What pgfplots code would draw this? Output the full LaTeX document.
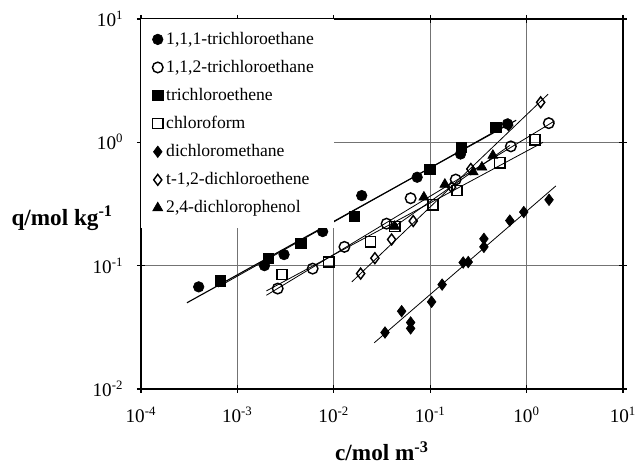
\documentclass[border=0pt]{standalone}
\usepackage{fontspec}
\setmainfont{Liberation Serif}
\usepackage{pgfplots}
\pgfplotsset{compat=1.18}
\begin{document}
\begin{tikzpicture}
\begin{axis}[
  scale only axis,
  width=301.25pt, height=231.25pt,
  xmode=log, ymode=log,
  xmin=1e-4, xmax=10, ymin=1e-2, ymax=10,
  xtick={1e-4,1e-3,1e-2,1e-1,1,10},
  xticklabels={10\textsuperscript{-4},10\textsuperscript{-3},10\textsuperscript{-2},10\textsuperscript{-1},10\textsuperscript{0},10\textsuperscript{1}},
  ytick={1e-2,1e-1,1,10},
  yticklabels={10\textsuperscript{-2},10\textsuperscript{-1},10\textsuperscript{0},10\textsuperscript{1}},
  minor tick num=0,
  subtickwidth=0pt,
  tick align=center,
  major tick length=5pt,
  tick style={black, line width=0.8pt},
  axis line style={black, line width=1pt},
  grid=major,
  major grid style={black!55, line width=0.5pt},
  ticklabel style={font=\fontsize{12}{14}\selectfont},
  xticklabel style={yshift=-5pt},
  yticklabel style={xshift=-5pt},
  xlabel={\bfseries c/mol m\textsuperscript{-3}},
  xlabel style={font=\fontsize{14.5}{16}\selectfont, at={(rel axis cs:0.5,0)}, anchor=center, yshift=-39pt},
  ylabel={\bfseries q/mol kg\textsuperscript{-1}},
  ylabel style={font=\fontsize{14.5}{16}\selectfont, rotate=-90, at={(rel axis cs:0,0.462)}, anchor=east, xshift=-14pt},
  legend style={at={(0,1)}, anchor=north west, draw=none, fill=white,
    inner xsep=7pt, inner ysep=6pt, row sep=4.4pt,
    font=\fontsize{11}{13}\selectfont, cells={anchor=west}},
  legend image code/.code={\draw[mark repeat=1] plot coordinates {(0pt,0pt)};},
  every axis plot/.append style={black},
]
% 1,1,1-trichloroethane
\addplot[only marks, mark=*, mark size=3.3pt] coordinates {
 (3.97e-4,0.0673) (1.91e-3,0.100) (3.05e-3,0.123) (7.67e-3,0.189)
 (0.0195,0.370) (0.0733,0.521) (0.2065,0.804) (0.634,1.41)};
\addlegendentry{\makebox[96pt][l]{1,1,1-trichloroethane}}
% 1,1,2-trichloroethane
\addplot[only marks, mark=o, mark size=3.3pt, mark options={fill=white, line width=0.9pt}] coordinates {
 (2.62e-3,0.0652) (6.04e-3,0.0946) (0.0129,0.142) (0.0353,0.219)
 (0.0627,0.352) (0.184,0.499) (0.687,0.927) (1.70,1.43)};
\addlegendentry{1,1,2-trichloroethane}
% trichloroethene
\addplot[only marks, mark=square*, mark size=3.2pt] coordinates {
 (6.62e-4,0.0752) (2.09e-3,0.114) (4.54e-3,0.151) (0.0162,0.251)
 (0.0993,0.600) (0.211,0.912) (0.480,1.32)};
\addlegendentry{trichloroethene}
% chloroform
\addplot[only marks, mark=square, mark size=3.2pt, mark options={fill=white, line width=0.9pt}] coordinates {
 (2.90e-3,0.0846) (8.9e-3,0.107) (0.0241,0.156) (0.0429,0.208)
 (0.107,0.311) (0.190,0.407) (0.527,0.681) (1.22,1.05)};
\addlegendentry{chloroform}
% dichloromethane
\addplot[only marks, mark=diamond*, mark size=3.6pt] coordinates {
 (0.0340,0.0287) (0.0506,0.0427) (0.0627,0.0346) (0.0627,0.0310)
 (0.1035,0.0509) (0.133,0.0702) (0.220,0.106) (0.248,0.107)
 (0.361,0.165) (0.361,0.142) (0.670,0.232) (0.935,0.272) (1.71,0.342)};
\addlegendentry{dichloromethane}
% t-1,2-dichloroethene
\addplot[only marks, mark=diamond, mark size=3.4pt, mark options={fill=white, line width=0.9pt}] coordinates {
 (0.0190,0.0862) (0.0267,0.115) (0.0398,0.163) (0.0667,0.230)
 (0.1667,0.433) (0.264,0.608) (0.65,1.38) (1.40,2.11)};
\addlegendentry{t-1,2-dichloroethene}
% 2,4-dichlorophenol
\addplot[only marks, mark=triangle*, mark size=3.6pt] coordinates {
 (0.0429,0.208) (0.0861,0.359) (0.142,0.456) (0.279,0.575)
 (0.344,0.628) (0.447,0.782)};
\addlegendentry{2,4-dichlorophenol}
% fitted lines
\addplot[no marks, line width=0.7pt, forget plot] coordinates {(3.0e-4,0.050) (0.78,1.51)};
\addplot[no marks, line width=0.5pt, forget plot] coordinates {(6.3e-4,0.0671) (0.708,1.47)};
\addplot[no marks, line width=0.5pt, forget plot] coordinates {(2.0e-3,0.0575) (1.95,1.49)};
\addplot[no marks, line width=0.5pt, forget plot] coordinates {(2.0e-3,0.0624) (1.48,1.0)};
\addplot[no marks, line width=0.5pt, forget plot] coordinates {(0.01538,0.0738) (1.671,2.455)};
\addplot[no marks, line width=0.5pt, forget plot] coordinates {(0.0398,0.1995) (0.670,0.944)};
\addplot[no marks, line width=0.5pt, forget plot] coordinates {(0.0263,0.0237) (2.01,0.4426)};
\end{axis}
\pgfresetboundingbox
\path (-88.1pt,-46.9pt) rectangle (311.25pt,243.1pt);
\end{tikzpicture}
\end{document}
